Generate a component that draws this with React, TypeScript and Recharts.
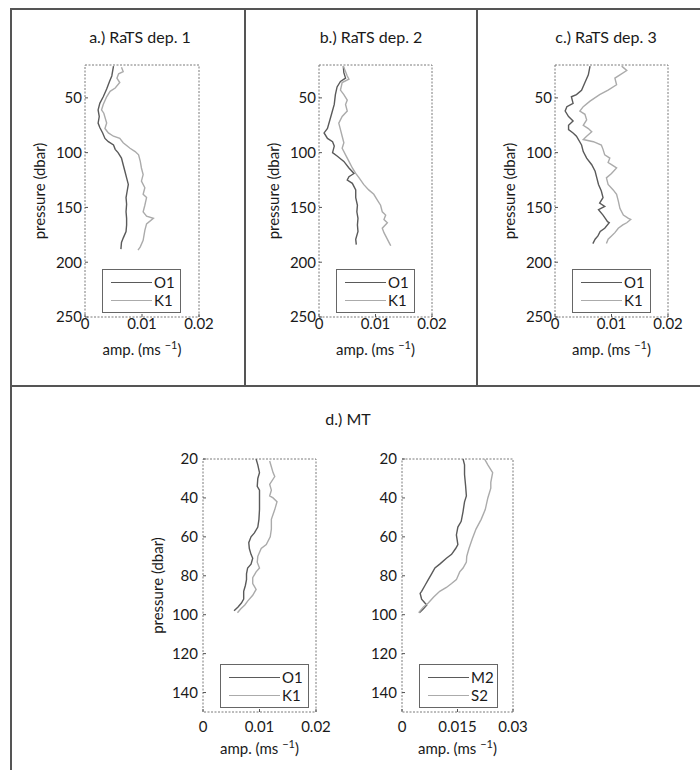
import React from 'react';
import { ScatterChart, Scatter, XAxis, YAxis, Legend, ReferenceArea } from 'recharts';

const FONT = 'Lato, "Open Sans", sans-serif';
const DARK = '#5a5a5a';
const LIGHT = '#ababab';

// a.) RaTS dep. 1
const aO1P = [21, 30, 35, 42, 49, 55, 61, 67, 73, 77, 82, 87, 90, 93, 97, 100, 105, 111, 117, 123, 129, 135, 141, 147, 154, 160, 166, 172, 178, 182, 188];
const aO1V = [0.005, 0.0047, 0.0043, 0.0038, 0.0032, 0.0026, 0.0023, 0.0025, 0.0023, 0.0026, 0.0031, 0.0035, 0.0041, 0.005, 0.0053, 0.0058, 0.0064, 0.0067, 0.007, 0.0073, 0.0076, 0.0074, 0.0072, 0.0073, 0.0072, 0.0073, 0.0073, 0.0072, 0.0067, 0.0064, 0.0063];
const aK1P = [22, 26, 28, 32, 36, 41, 44, 49, 56, 61, 64, 73, 78, 82, 85, 87, 91, 96, 99, 102, 108, 114, 120, 126, 132, 138, 141, 148, 154, 158, 160, 165, 171, 180, 186, 189];
const aK1V = [0.0064, 0.0067, 0.0059, 0.0056, 0.0061, 0.0053, 0.0044, 0.0038, 0.0032, 0.0029, 0.0033, 0.0038, 0.0035, 0.0041, 0.005, 0.0061, 0.0067, 0.0079, 0.0088, 0.0094, 0.0097, 0.0099, 0.0102, 0.0099, 0.0105, 0.0102, 0.0108, 0.0105, 0.0102, 0.0108, 0.012, 0.0108, 0.0105, 0.0102, 0.0097, 0.0093];

// b.) RaTS dep. 2
const bO1P = [21, 27, 32, 35, 40, 47, 56, 67, 78, 82, 87, 90, 94, 100, 103, 108, 114, 119, 122, 125, 128, 134, 141, 148, 154, 160, 166, 172, 179, 184];
const bO1V = [0.0043, 0.0044, 0.0047, 0.0038, 0.0032, 0.0029, 0.0027, 0.0021, 0.0015, 0.0009, 0.0015, 0.0024, 0.0027, 0.0024, 0.0032, 0.0044, 0.0053, 0.0062, 0.0053, 0.005, 0.0059, 0.0065, 0.0065, 0.0068, 0.0067, 0.0069, 0.0068, 0.0069, 0.0065, 0.0066];
const bK1P = [21, 30, 33, 36, 43, 47, 52, 56, 62, 67, 73, 79, 85, 91, 96, 102, 108, 114, 119, 123, 129, 134, 138, 143, 148, 154, 157, 161, 164, 169, 173, 178, 183, 185];
const bK1V = [0.0043, 0.005, 0.0053, 0.0041, 0.0038, 0.0044, 0.005, 0.0047, 0.005, 0.0041, 0.0035, 0.0038, 0.0041, 0.0044, 0.0041, 0.0047, 0.0053, 0.0059, 0.0065, 0.0071, 0.0079, 0.0088, 0.0097, 0.0103, 0.0109, 0.0112, 0.0118, 0.0115, 0.0121, 0.0112, 0.0115, 0.012, 0.0125, 0.0127];

// c.) RaTS dep. 3
const cO1P = [21, 29, 36, 43, 47, 49, 55, 58, 62, 67, 71, 75, 79, 82, 85, 93, 99, 105, 111, 117, 123, 129, 135, 141, 146, 149, 152, 157, 160, 163, 164, 169, 172, 176, 179, 183];
const cO1V = [0.0062, 0.0059, 0.0053, 0.0047, 0.0038, 0.0029, 0.0032, 0.0021, 0.0018, 0.0024, 0.0032, 0.0024, 0.0024, 0.0032, 0.0038, 0.0047, 0.005, 0.0056, 0.0065, 0.0071, 0.0074, 0.0077, 0.0082, 0.0085, 0.0079, 0.0088, 0.0077, 0.0085, 0.0089, 0.0093, 0.0096, 0.0088, 0.008, 0.0076, 0.0071, 0.0067];
const cK1P = [21, 25, 29, 32, 38, 43, 47, 53, 58, 62, 65, 70, 75, 78, 81, 85, 88, 90, 93, 97, 102, 105, 109, 111, 114, 119, 123, 129, 134, 138, 144, 151, 157, 160, 161, 164, 166, 169, 173, 176, 179, 183];
const cK1V = [0.0118, 0.0127, 0.0115, 0.0106, 0.0109, 0.0094, 0.0079, 0.0062, 0.005, 0.0044, 0.0053, 0.0056, 0.005, 0.0059, 0.0065, 0.0056, 0.005, 0.0068, 0.0082, 0.0085, 0.0088, 0.0097, 0.0094, 0.01, 0.0109, 0.01, 0.0091, 0.0094, 0.0103, 0.0109, 0.0112, 0.0115, 0.0121, 0.013, 0.0134, 0.0127, 0.012, 0.0112, 0.0106, 0.01, 0.0094, 0.0091];

// d.) MT, diurnal
const dO1P = [20, 23, 27, 30, 34, 36, 40, 46, 51, 55, 58, 60, 63, 66, 69, 71, 74, 76, 79, 82, 85, 88, 92, 94, 96, 98];
const dO1V = [0.0094, 0.0097, 0.01, 0.0097, 0.0096, 0.01, 0.01, 0.01, 0.0099, 0.0097, 0.0091, 0.0085, 0.0081, 0.0082, 0.0085, 0.0088, 0.0085, 0.0079, 0.0077, 0.0077, 0.0075, 0.0072, 0.0072, 0.0068, 0.0062, 0.0055];
const dK1P = [21, 24, 27, 29, 33, 36, 39, 40, 42, 46, 51, 56, 60, 64, 66, 70, 73, 76, 78, 81, 84, 87, 90, 93, 95, 97, 99];
const dK1V = [0.0118, 0.0121, 0.0124, 0.0127, 0.0118, 0.0121, 0.0118, 0.0124, 0.0131, 0.0127, 0.0121, 0.0121, 0.0119, 0.0112, 0.0103, 0.0097, 0.0096, 0.01, 0.0094, 0.0088, 0.0088, 0.0094, 0.0088, 0.0079, 0.0074, 0.0067, 0.0061];

// d.) MT, semidiurnal
const dM2P = [20, 23, 28, 34, 39, 42, 47, 52, 55, 59, 64, 66, 69, 71, 74, 76, 79, 82, 85, 88, 89, 92, 94, 95, 97, 99];
const dM2V = [0.0165, 0.0169, 0.0169, 0.0172, 0.0174, 0.0169, 0.0165, 0.016, 0.0151, 0.0147, 0.0151, 0.0145, 0.0134, 0.012, 0.0102, 0.0089, 0.008, 0.0071, 0.0062, 0.0053, 0.0049, 0.0053, 0.0062, 0.0067, 0.0058, 0.0047];
const dS2P = [20, 23, 27, 32, 35, 40, 46, 51, 56, 61, 66, 70, 73, 76, 78, 82, 84, 86, 88, 91, 94, 96, 99];
const dS2V = [0.0223, 0.0232, 0.0245, 0.024, 0.024, 0.0232, 0.0225, 0.0214, 0.02, 0.019, 0.0181, 0.0175, 0.0174, 0.0165, 0.0156, 0.0147, 0.0134, 0.012, 0.0102, 0.0085, 0.0071, 0.0058, 0.0045];

const topYTicks = [50, 100, 150, 200, 250];
const botYTicks = [20, 40, 60, 80, 100, 120, 140];
const diurnalXTicks = [0, 0.01, 0.02];
const semiXTicks = [0, 0.015, 0.03];

const zip = (p: number[], v: number[]) => p.map((pp, i) => ({ p: pp, v: v[i] }));

function AmpLabel(props: any) {
  const { viewBox, dyBase } = props;
  const cx = viewBox.x + viewBox.width / 2;
  return (
    <text x={cx} y={viewBox.y + dyBase} textAnchor="middle" fontSize={15} fill="#1a1a1a" fontFamily={FONT}>
      amp. (ms <tspan dy={-6} fontSize={11}>−1</tspan>
      <tspan dy={6}>)</tspan>
    </text>
  );
}

function LegendBox(props: any) {
  const { payload, width, names } = props;
  const items = names.map((n: string) => (payload || []).find((e: any) => e.value === n)).filter(Boolean);
  return (
    <div style={{ width, height: 44, border: '1px solid #666', boxSizing: 'border-box', background: '#fff', position: 'relative', fontFamily: FONT, fontSize: 15, color: '#1a1a1a' }}>
      {items.map((e: any, i: number) => (
        <div key={e.value} style={{ position: 'absolute', left: 8, top: 3 + i * 18, height: 18, display: 'flex', alignItems: 'center' }}>
          <div style={{ width: width - 38, height: 0, borderTop: `1.5px solid ${e.color}` }} />
          <span style={{ marginLeft: 2, lineHeight: '18px' }}>{e.value}</span>
        </div>
      ))}
    </div>
  );
}

interface ProfileProps {
  left: number;
  top: number;
  plotW: number;
  plotH: number;
  yMax: number;
  yTicks: number[];
  xMax: number;
  xTicks: number[];
  names: [string, string];
  series: [{ p: number; v: number }[], { p: number; v: number }[]];
  yLabel?: boolean;
  legendW: number;
  xTickMargin: number;
  yTickMargin: number;
  ampDy: number;
}

function Profile(props: ProfileProps) {
  const { left, top, plotW, plotH, yMax, yTicks, xMax, xTicks, names, series, yLabel, legendW, xTickMargin, yTickMargin, ampDy } = props;
  const yw = 60;
  const xh = 50;
  const mr = 30;
  const mt = 14;
  const W = yw + plotW + mr;
  const H = mt + plotH + xh;
  const tickStyle = { fontSize: 15, fill: '#1a1a1a', fontFamily: FONT };
  const fmt = (v: number) => (v === 0 ? '0' : String(v));
  return (
    <div style={{ position: 'absolute', left: left - yw, top: top - mt }}>
      <ScatterChart width={W} height={H} margin={{ top: mt, right: mr, left: 0, bottom: 0 }}>
        <XAxis
          type="number"
          dataKey="v"
          domain={[0, xMax]}
          ticks={xTicks}
          tickFormatter={fmt}
          interval={0}
          height={xh}
          axisLine={false}
          tickLine={{ stroke: '#555' }}
          tickSize={-3}
          tickMargin={xTickMargin}
          tick={tickStyle}
          allowDataOverflow
          label={<AmpLabel dyBase={ampDy} />}
        />
        <YAxis
          type="number"
          dataKey="p"
          reversed
          domain={[20, yMax]}
          ticks={yTicks}
          interval={0}
          width={yw}
          axisLine={false}
          tickLine={{ stroke: '#555' }}
          tickSize={-3}
          tickMargin={yTickMargin}
          tick={tickStyle}
          allowDataOverflow
          label={
            yLabel
              ? { value: 'pressure (dbar)', angle: -90, position: 'insideLeft', offset: yw - 45, style: { textAnchor: 'middle', fontSize: 15, fill: '#1a1a1a', fontFamily: FONT } }
              : undefined
          }
        />
        <ReferenceArea
          x1={0}
          x2={xMax}
          y1={20}
          y2={yMax}
          fill="#fff"
          fillOpacity={0}
          stroke="#7a7a7a"
          strokeDasharray="2 1.5"
          ifOverflow="visible"
        />
        <Legend
          layout="horizontal"
          verticalAlign="middle"
          align="center"
          wrapperStyle={{ left: yw + 17, top: mt + plotH - 48, width: legendW, height: 44 }}
          content={(p: any) => <LegendBox payload={p.payload} width={legendW} names={names} />}
        />
        <Scatter
          name={names[0]}
          data={series[0]}
          fill={DARK}
          line={{ stroke: DARK, strokeWidth: 1.4 }}
          shape={() => <g />}
          legendType="line"
          isAnimationActive={false}
        />
        <Scatter
          name={names[1]}
          data={series[1]}
          fill={LIGHT}
          line={{ stroke: LIGHT, strokeWidth: 1.4 }}
          shape={() => <g />}
          legendType="line"
          isAnimationActive={false}
        />
      </ScatterChart>
    </div>
  );
}

const titleStyle = (cx: number, cy: number): React.CSSProperties => ({
  position: 'absolute',
  left: cx - 80,
  top: cy - 10,
  width: 160,
  textAlign: 'center',
  fontSize: 16,
  lineHeight: '20px',
  color: '#1a1a1a',
  fontFamily: FONT,
});

const line = (l: number, t: number, w: number, h: number): React.CSSProperties => ({
  position: 'absolute',
  left: l,
  top: t,
  width: w,
  height: h,
  background: '#555',
});

export default function App() {
  return (
    <div style={{ position: 'absolute', left: 0, top: 0, width: 700, height: 770, background: '#fff', overflow: 'hidden', fontFamily: FONT }}>
      <div style={line(10, 8, 690, 2)} />
      <div style={line(10, 8, 2, 762)} />
      <div style={line(244, 8, 2, 379)} />
      <div style={line(476, 8, 2, 379)} />
      <div style={line(10, 385, 690, 2)} />

      <div style={titleStyle(140, 37)}>a.) RaTS dep. 1</div>
      <div style={titleStyle(371, 37)}>b.) RaTS dep. 2</div>
      <div style={titleStyle(606, 37)}>c.) RaTS dep. 3</div>
      <div style={titleStyle(348, 419)}>d.) MT</div>

      <Profile left={85} top={65} plotW={114} plotH={252} yMax={250} yTicks={topYTicks} xMax={0.02} xTicks={diurnalXTicks}
        names={['O1', 'K1']} series={[zip(aO1P, aO1V), zip(aK1P, aK1V)]} yLabel legendW={79} xTickMargin={4} yTickMargin={6} ampDy={38} />
      <Profile left={319} top={65} plotW={113} plotH={252} yMax={250} yTicks={topYTicks} xMax={0.02} xTicks={diurnalXTicks}
        names={['O1', 'K1']} series={[zip(bO1P, bO1V), zip(bK1P, bK1V)]} yLabel legendW={79} xTickMargin={4} yTickMargin={6} ampDy={38} />
      <Profile left={555} top={65} plotW={113} plotH={252} yMax={250} yTicks={topYTicks} xMax={0.02} xTicks={diurnalXTicks}
        names={['O1', 'K1']} series={[zip(cO1P, cO1V), zip(cK1P, cK1V)]} yLabel legendW={79} xTickMargin={4} yTickMargin={6} ampDy={38} />
      <Profile left={203} top={459} plotW={113} plotH={253} yMax={150} yTicks={botYTicks} xMax={0.02} xTicks={diurnalXTicks}
        names={['O1', 'K1']} series={[zip(dO1P, dO1V), zip(dK1P, dK1V)]} yLabel legendW={89} xTickMargin={12} yTickMargin={8} ampDy={42} />
      <Profile left={402} top={459} plotW={111} plotH={253} yMax={150} yTicks={botYTicks} xMax={0.03} xTicks={semiXTicks}
        names={['M2', 'S2']} series={[zip(dM2P, dM2V), zip(dS2P, dS2V)]} legendW={79} xTickMargin={12} yTickMargin={8} ampDy={42} />
    </div>
  );
}
